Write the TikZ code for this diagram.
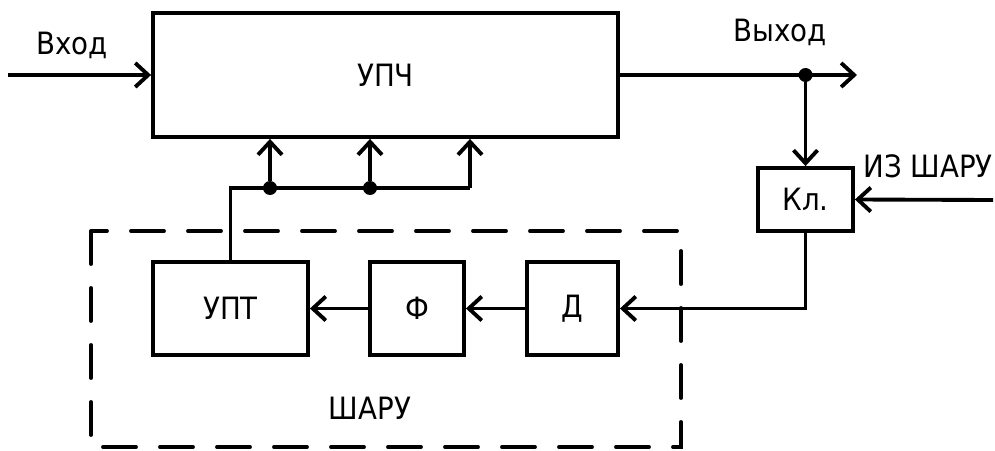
\documentclass[tikz,border=0pt]{standalone}
\usepackage{fontspec}
\setmainfont{DejaVu Sans Condensed}
\usetikzlibrary{arrows.meta}
\begin{document}
\begin{tikzpicture}[
  block/.style={draw, line width=2.2pt, inner sep=0pt, align=center,
                font=\fontsize{17.5}{20}\selectfont},
  lbl/.style={anchor=base, inner sep=0pt, font=\fontsize{17.5}{20}\selectfont},
  arr/.style={-{Straight Barb[length=2.6mm,width=4.8mm]}, line width=2.2pt},
  wire/.style={line width=2.2pt},
  dot/.style={circle, fill, inner sep=0pt, minimum size=2.8mm}
]
\useasboundingbox (0,0) rectangle (19.9,9);
% IF amplifier
\node[block, minimum width=9.3cm, minimum height=2.48cm] (upch) at (7.71,7.5) {УПЧ};
% Switch
\node[block, minimum width=1.9cm, minimum height=1.26cm] (kl) at (16.11,5.01) {Кл.};
% AGC chain
\node[block, minimum width=1.82cm, minimum height=1.86cm] (det) at (11.45,2.83) {Д};
\node[block, minimum width=1.88cm, minimum height=1.86cm] (filt) at (8.34,2.83) {Ф};
\node[block, minimum width=3.1cm, minimum height=1.86cm] (upt) at (4.61,2.83) {УПТ};
% AGC frame
\draw[line width=2.2pt, line cap=round, dash pattern=on 0.66cm off 0.48cm]
  (1.82,4.38) rectangle (13.62,0.06);

% Labels
\node[lbl] (inlbl) at (1.44,7.9) {Вход};
\node[lbl] (outlbl) at (15.6,8.16) {Выход};
\node[lbl, anchor=base east] (izlbl) at (19.86,5.46) {ИЗ ШАРУ};
\node[lbl] (agclbl) at (7.4,0.62) {ШАРУ};

% Free ends and taps
\coordinate (in) at (0.16,7.5);
\coordinate (out) at (17.14,7.5);
\coordinate (iz) at (19.86,5.0);
\node[dot] (split) at (16.11,7.5) {};
\node[dot] (b1) at (5.4,5.24) {};
\node[dot] (b2) at (7.4,5.24) {};
\coordinate (b3) at (9.4,5.24);

\draw[arr] (in) -- (upch.west);
\draw[arr] (upch.east) -- (out);
\draw[arr] (split) -- (kl.north);
\draw[arr] (iz) -- (kl.east);
\draw[arr] (kl.south) |- (det.east);
\draw[arr] (det.west) -- (filt.east);
\draw[arr] (filt.west) -- (upt.east);
\draw[wire] (upt.north) |- (b3);
\draw[arr] (b1) -- (b1 |- upch.south);
\draw[arr] (b2) -- (b2 |- upch.south);
\draw[arr] (b3) -- (b3 |- upch.south);
\end{tikzpicture}
\end{document}
